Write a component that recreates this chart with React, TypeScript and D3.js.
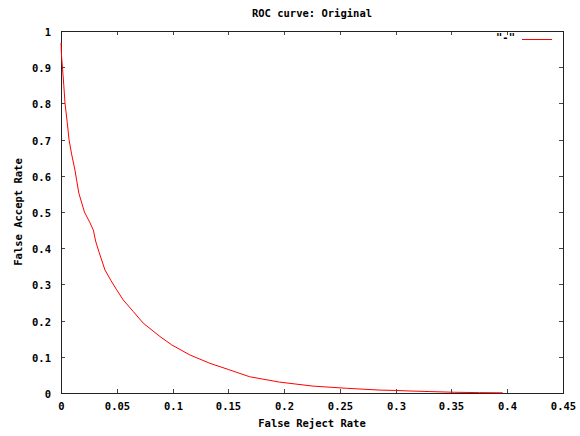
import React, { useEffect, useRef } from 'react';
import * as d3 from 'd3';

// ROC curve points
const frr = [0, 0.0005, 0.0013, 0.0025, 0.0036, 0.0055, 0.0072, 0.0095, 0.0125, 0.014, 0.016, 0.021, 0.026, 0.029, 0.031, 0.034,
  0.0394, 0.0449, 0.0499, 0.0558, 0.0648, 0.0737, 0.0887, 0.0992, 0.1156, 0.1335, 0.150, 0.169, 0.196, 0.226, 0.256, 0.286,
  0.300, 0.313, 0.330, 0.353, 0.375, 0.396];
const far = [0.967, 0.93, 0.9, 0.85, 0.8, 0.75, 0.7, 0.66, 0.616, 0.588, 0.552, 0.5, 0.47, 0.45, 0.42, 0.39,
  0.34, 0.31, 0.285, 0.257, 0.225, 0.193, 0.156, 0.133, 0.105, 0.082, 0.065, 0.045, 0.030, 0.019, 0.013, 0.008,
  0.007, 0.0055, 0.004, 0.002, 0.001, 0.0005];

const xTicks = [0, 0.05, 0.1, 0.15, 0.2, 0.25, 0.3, 0.35, 0.4, 0.45];
const yTicks = [0, 0.1, 0.2, 0.3, 0.4, 0.5, 0.6, 0.7, 0.8, 0.9, 1];

const width = 580;
const height = 436;
const margin = { left: 61, right: 17, top: 31, bottom: 43 };
const font = '"DejaVu Sans Mono", monospace';

export default function App() {
  const ref = useRef<SVGSVGElement>(null);

  useEffect(() => {
    const svg = d3.select(ref.current);
    svg.selectAll('*').remove();

    const x = d3.scaleLinear().domain([0, 0.45]).range([margin.left, width - margin.right]);
    const y = d3.scaleLinear().domain([0, 1]).range([height - margin.bottom, margin.top]);

    const g = svg.append('g').attr('fill', '#000');

    // ticks, mirrored on all four sides, pointing inward
    const tk = 4;
    xTicks.forEach((t) => {
      const px = Math.round(x(t)) + 0.5;
      g.append('line').attr('x1', px).attr('x2', px).attr('y1', y(0)).attr('y2', y(0) - tk).attr('stroke', '#444');
      g.append('line').attr('x1', px).attr('x2', px).attr('y1', y(1)).attr('y2', y(1) + tk).attr('stroke', '#444');
      g.append('text')
        .attr('x', px)
        .attr('y', y(0) + 17)
        .attr('text-anchor', 'middle')
        .attr('fill', '#000')
        .text(String(t));
    });
    yTicks.forEach((t) => {
      const py = Math.round(y(t)) + 0.5;
      g.append('line').attr('x1', x(0)).attr('x2', x(0) + tk).attr('y1', py).attr('y2', py).attr('stroke', '#444');
      g.append('line').attr('x1', x(0.45)).attr('x2', x(0.45) - tk).attr('y1', py).attr('y2', py).attr('stroke', '#444');
      g.append('text')
        .attr('x', x(0) - 10)
        .attr('y', py + 4)
        .attr('text-anchor', 'end')
        .attr('fill', '#000')
        .text(String(t));
    });

    // border
    g.append('rect')
      .attr('x', Math.round(x(0)) + 0.5)
      .attr('y', Math.round(y(1)) + 0.5)
      .attr('width', Math.round(x(0.45) - x(0)))
      .attr('height', Math.round(y(0) - y(1)))
      .attr('fill', 'none')
      .attr('stroke', '#222');

    const line = d3
      .line<number>()
      .x((_, i) => x(frr[i]))
      .y((d) => y(d));

    g.append('path')
      .datum(far)
      .attr('d', line)
      .attr('fill', 'none')
      .attr('stroke', '#ff0000')
      .attr('stroke-width', 1);

    // legend
    g.append('text').attr('x', 515).attr('y', 41).attr('text-anchor', 'end').attr('fill', '#000').text('"-"');
    g.append('rect').attr('x', 522).attr('y', 39).attr('width', 30).attr('height', 1).attr('fill', '#ff0000');

    // titles
    g.append('text').attr('x', 312).attr('y', 17).attr('text-anchor', 'middle').attr('fill', '#000').text('ROC curve: Original');
    g.append('text').attr('x', 312).attr('y', 427).attr('text-anchor', 'middle').attr('fill', '#000').text('False Reject Rate');
    g.append('text')
      .attr('transform', `translate(22, ${(y(0) + y(1)) / 2}) rotate(-90)`)
      .attr('text-anchor', 'middle')
      .attr('fill', '#000')
      .text('False Accept Rate');
  }, []);

  return (
    <svg
      ref={ref}
      width={width}
      height={height}
      style={{ position: 'absolute', left: 0, top: 0, background: '#fff', fontFamily: font, fontSize: 10.5, fontWeight: 'bold' }}
    />
  );
}
